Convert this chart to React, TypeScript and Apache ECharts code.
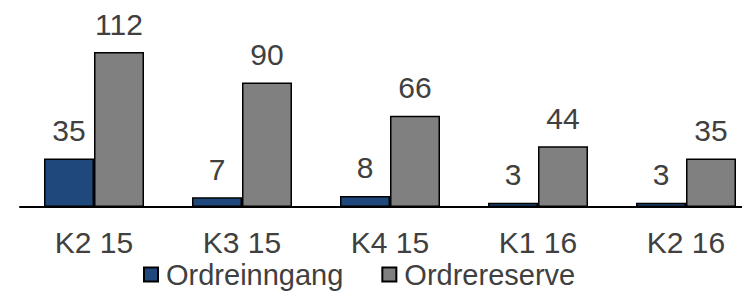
import React, { useEffect, useRef } from "react";
import * as echarts from "echarts";

const categories = ["K2 15", "K3 15", "K4 15", "K1 16", "K2 16"];
const ordreinngang = [35, 7, 8, 3, 3];
const ordrereserve = [112, 90, 66, 44, 35];

export default function App() {
  const ref = useRef<HTMLDivElement>(null);
  useEffect(() => {
    document.body.style.margin = "0";
    const chart = echarts.init(ref.current!, null, { renderer: "svg" });
    const font = "'Liberation Sans', Arial, sans-serif";
    chart.setOption({
      animation: false,
      grid: { left: 20, right: 0, top: 41, bottom: 89 },
      legend: {
        top: 260,
        left: 143,
        padding: 0,
        itemWidth: 14,
        itemHeight: 14,
        itemGap: 38,
        textStyle: { fontSize: 29, lineHeight: 28, color: "#404040", fontFamily: font, padding: [0, 0, 0, 3] },
        data: [
          { name: "Ordreinngang", icon: "rect" },
          { name: "Ordrereserve", icon: "rect" },
        ],
      },
      xAxis: {
        type: "category",
        data: categories,
        axisLine: { lineStyle: { color: "#000", width: 2 } },
        axisTick: { show: false },
        axisLabel: { fontSize: 30, lineHeight: 30, color: "#404040", fontFamily: font, margin: 20 },
      },
      yAxis: {
        type: "value",
        min: 0,
        max: 120,
        show: false,
        splitLine: { show: false },
      },
      series: [
        {
          name: "Ordreinngang",
          type: "bar",
          data: ordreinngang,
          barWidth: 50,
          barGap: "0%",
          itemStyle: { color: "#1F497D", borderColor: "#000", borderWidth: 1.5 },
          label: { show: true, position: "top", distance: 13, fontSize: 30, color: "#404040", fontFamily: font },
        },
        {
          name: "Ordrereserve",
          type: "bar",
          data: ordrereserve,
          barWidth: 50,
          itemStyle: { color: "#808080", borderColor: "#000", borderWidth: 1.5 },
          label: { show: true, position: "top", distance: 13, fontSize: 30, color: "#404040", fontFamily: font },
        },
      ],
    });
    return () => chart.dispose();
  }, []);
  return (
    <div style={{ width: 742, height: 296, overflow: "hidden", position: "relative" }}>
      <div ref={ref} style={{ width: 760, height: 296 }} />
    </div>
  );
}
